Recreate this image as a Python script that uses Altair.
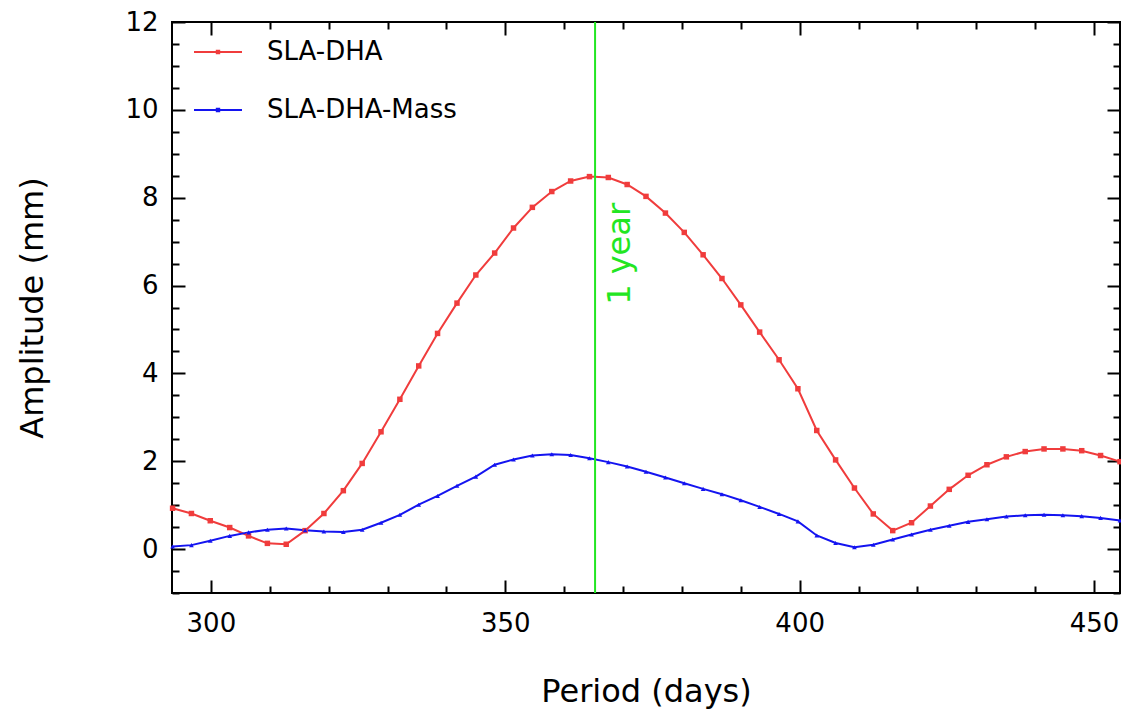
import altair as alt
import pandas as pd

# ---------------- data ----------------
period = [293.5, 296.7, 299.9, 303.2, 306.4, 309.6, 312.8, 316.0, 319.2, 322.5,
          325.7, 328.9, 332.1, 335.3, 338.5, 341.8, 345.0, 348.2, 351.4, 354.6,
          357.9, 361.1, 364.3, 367.5, 370.7, 373.9, 377.2, 380.4, 383.6, 386.8,
          390.0, 393.2, 396.5, 399.7, 402.9, 406.1, 409.3, 412.5, 415.8, 419.0,
          422.2, 425.4, 428.6, 431.8, 435.1, 438.3, 441.5, 444.7, 447.9, 451.1,
          454.4]

sla_dha = [0.93, 0.81, 0.645, 0.49, 0.30, 0.13, 0.11, 0.42, 0.81, 1.33,
           1.95, 2.67, 3.41, 4.17, 4.91, 5.60, 6.24, 6.74, 7.31, 7.78,
           8.14, 8.38, 8.48, 8.46, 8.30, 8.03, 7.65, 7.21, 6.70, 6.16,
           5.56, 4.94, 4.31, 3.65, 2.70, 2.03, 1.39, 0.80, 0.42, 0.60,
           0.98, 1.36, 1.68, 1.92, 2.10, 2.22, 2.28, 2.28, 2.24, 2.13,
           1.99]

sla_dha_mass = [0.06, 0.09, 0.19, 0.30, 0.38, 0.44, 0.47, 0.43, 0.40, 0.39,
                0.44, 0.60, 0.78, 1.01, 1.21, 1.44, 1.65, 1.92, 2.04, 2.13,
                2.16, 2.14, 2.07, 1.98, 1.88, 1.76, 1.63, 1.50, 1.37, 1.25,
                1.11, 0.96, 0.80, 0.63, 0.31, 0.14, 0.04, 0.10, 0.22, 0.33,
                0.44, 0.53, 0.62, 0.68, 0.74, 0.77, 0.78, 0.77, 0.75, 0.71,
                0.65]

series_names = ["SLA-DHA", "SLA-DHA-Mass"]
year_period = [365.25]
year_label = ["1 year"]

x_tick_labels = [300, 350, 400, 450]
x_ticks_all = [300, 310, 320, 330, 340, 350, 360, 370, 380, 390, 400,
               410, 420, 430, 440, 450]
y_tick_labels = [0, 2, 4, 6, 8, 10, 12]
y_ticks_all = [-1, -0.5, 0, 0.5, 1, 1.5, 2, 2.5, 3, 3.5, 4, 4.5, 5, 5.5, 6,
               6.5, 7, 7.5, 8, 8.5, 9, 9.5, 10, 10.5, 11, 11.5, 12]

# ---------------- styling ----------------
RED = "#f03c3c"
BLUE = "#1414f0"
GREEN = "#22e622"
FONT = "DejaVu Sans"
W, H = 948, 571
X_DOMAIN = [293.4, 454.4]
Y_DOMAIN = [-1, 12]

df = pd.concat([
    pd.DataFrame({"period": period, "amplitude": sla_dha, "series": series_names[0]}),
    pd.DataFrame({"period": period, "amplitude": sla_dha_mass, "series": series_names[1]}),
], ignore_index=True)
year_df = pd.DataFrame({"period": year_period, "label": year_label})

xscale = alt.Scale(domain=X_DOMAIN, nice=False, zero=False)
yscale = alt.Scale(domain=Y_DOMAIN, nice=False, zero=False)
color_scale = alt.Scale(domain=series_names, range=[RED, BLUE])

x_major = {"condition": {"test": "datum.value % 50 === 0", "value": 13}, "value": 7}
y_major = {"condition": {"test": "datum.value % 2 === 0", "value": 13}, "value": 7}


def tick_axis(orient, values, size, offset):
    return alt.Axis(orient=orient, values=values, labels=False, domain=False,
                    grid=False, ticks=True, tickSize=size, tickWidth=2,
                    tickColor="black", title=None, offset=offset)


legend_symbol = "M-1,0H1M-0.05,-0.05H0.05V0.05H-0.05Z"

lines = alt.Chart(df).mark_line(strokeWidth=2).encode(
    x=alt.X("period:Q", scale=xscale,
            axis=alt.Axis(orient="bottom", values=x_tick_labels, format="d",
                          ticks=False, tickSize=0, domain=False, grid=False,
                          labelFontSize=26, labelPadding=17,
                          title="Period (days)", titleFontSize=32,
                          titleFontWeight="normal", titleBaseline="alphabetic",
                          titleAlign="center", titleX=W / 2, titleY=108)),
    y=alt.Y("amplitude:Q", scale=yscale,
            axis=alt.Axis(orient="left", values=y_tick_labels, format="d",
                          ticks=False, tickSize=0, domain=False, grid=False,
                          labelFontSize=26, labelPadding=14,
                          title="Amplitude (mm)", titleFontSize=32,
                          titleFontWeight="normal", titleBaseline="alphabetic",
                          titleAlign="center", titleAngle=270,
                          titleX=-130, titleY=H / 2)),
    color=alt.Color("series:N", scale=color_scale,
                    legend=alt.Legend(title=None, orient="none", legendX=21,
                                      legendY=5, padding=0,
                                      symbolType=legend_symbol,
                                      symbolSize=2304, symbolStrokeWidth=2,
                                      labelFontSize=26, labelFont=FONT,
                                      labelColor="black", labelOffset=24,
                                      labelLimit=0, rowPadding=20)),
)

red_points = alt.Chart(df).transform_filter(
    alt.datum.series == series_names[0]
).mark_point(filled=True, opacity=1, shape="square", size=30, color=RED).encode(
    x=alt.X("period:Q", scale=xscale, axis=tick_axis("top", x_ticks_all, x_major, -H)),
    y=alt.Y("amplitude:Q", scale=yscale, axis=tick_axis("right", y_ticks_all, y_major, -W)),
)

blue_points = alt.Chart(df).transform_filter(
    alt.datum.series == series_names[1]
).mark_point(filled=True, opacity=1, shape="triangle-up", size=22, color=BLUE).encode(
    x=alt.X("period:Q", scale=xscale, axis=None),
    y=alt.Y("amplitude:Q", scale=yscale, axis=None),
)

year_rule = alt.Chart(year_df).mark_rule(color=GREEN, strokeWidth=2).encode(
    x=alt.X("period:Q", scale=xscale, axis=tick_axis("bottom", x_ticks_all, x_major, -H)),
    y=alt.Y(datum=Y_DOMAIN[0], scale=yscale, axis=tick_axis("left", y_ticks_all, y_major, -W)),
    y2=alt.Y2(datum=Y_DOMAIN[1]),
)

year_text = alt.Chart(year_df).mark_text(
    angle=270, align="center", baseline="alphabetic", fontSize=32,
    font=FONT, color=GREEN, dy=35,
).encode(
    x=alt.X("period:Q", scale=xscale, axis=None),
    y=alt.Y(datum=6.72, scale=yscale, axis=None),
    text="label:N",
)

chart = alt.layer(lines, red_points, blue_points, year_rule, year_text).resolve_axis(
    x="independent", y="independent"
).properties(
    width=W, height=H,
    autosize=alt.AutoSizeParams(type="none"),
    padding={"left": 164, "top": 14, "right": 1, "bottom": 118},
    background="white",
).configure_view(
    stroke="black", strokeWidth=2
).configure_axis(
    labelFont=FONT, titleFont=FONT, labelColor="black", titleColor="black"
)

chart.save("out.html", embed_options={"renderer": "svg", "actions": False})
